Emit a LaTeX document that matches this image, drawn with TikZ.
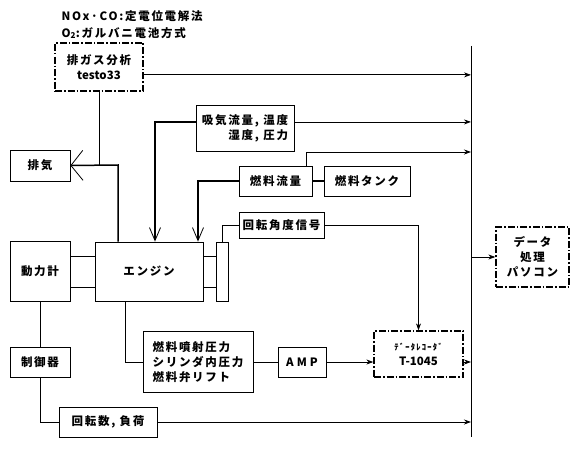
\documentclass[tikz,border=0pt]{standalone}
\usepackage{fontspec}
\setmainfont{Noto Sans CJK JP}[LetterSpace=15]
\newfontfamily\latn{Noto Sans CJK JP}
\usetikzlibrary{arrows.meta}
\begin{document}
\begin{tikzpicture}[x=1pt,y=-1pt,
  every node/.style={font=\fontsize{11.5}{15}\selectfont\bfseries},
  box/.style={draw,line width=0.8pt,inner sep=2pt},
  dbox/.style={draw,line width=1.3pt,dash pattern=on 7pt off 2pt on 1.5pt off 2pt,inner sep=2pt},
  wire/.style={line width=0.8pt},
  sig/.style={line width=0.8pt,-{Stealth[length=7pt,width=5pt]}},
  feed/.style={line width=1.5pt,-{Straight Barb[length=13pt,width=11pt,line width=0.8pt]}}]
  \useasboundingbox (0,0) rectangle (580,452);
  % bus
  \coordinate (busT) at (471,46);
  \coordinate (busB) at (471,437);
  \draw[wire] (busT) -- (busB);
  % notes
  \node[anchor=west] (noxl) at (58,16) {NOx·CO:定電位電解法};
  \node[anchor=west] (o2l) at (58,33) {O\textsubscript{2}:ガルバニ電池方式};
  % boxes
  \node[dbox,minimum width=88,minimum height=48,align=center] (gas) at (99,67) {排ガス分析\\{\latn\bfseries testo33}};
  \node[box,minimum width=60,minimum height=31] (exh) at (40,165.5) {排気};
  \node[box,minimum width=98,minimum height=46,align=right] (intake) at (245,128) {吸気流量, 温度\\湿度, 圧力};
  \node[box,minimum width=73,minimum height=30] (fflow) at (275.5,181) {燃料流量};
  \node[box,minimum width=86,minimum height=30] (tank) at (367,181) {燃料タンク};
  \node[box,minimum width=85,minimum height=26] (angle) at (281.5,225) {回転角度信号};
  \node[box,minimum width=108,minimum height=59] (engine) at (149,271.5) {エンジン};
  \node[box,minimum width=12,minimum height=59,inner sep=0pt] (disc) at (222,271.5) {};
  \node[box,minimum width=60,minimum height=60] (dyno) at (40,271.5) {動力計};
  \node[box,minimum width=110,minimum height=61,align=left] (inj) at (198,362) {燃料噴射圧力\\シリンダ内圧力\\燃料弁リフト};
  \node[box,minimum width=48,minimum height=30] (amp) at (302,362) {A\hspace{3pt}M\hspace{3pt}P};
  \node[dbox,minimum width=89,minimum height=46,align=center] (rec) at (418.5,354) {{\fontsize{8.5}{11}\selectfont ﾃﾞｰﾀﾚｺｰﾀﾞ}\\{\latn\bfseries T-1045}};
  \node[box,minimum width=60,minimum height=30] (ctrl) at (40,362) {制御器};
  \node[box,minimum width=98,minimum height=30] (rpm) at (108,422) {回転数, 負荷};
  \node[dbox,minimum width=73,minimum height=60,align=center] (pc) at (532.5,257) {データ\\処理\\パソコン};
  % exhaust
  \coordinate (exT) at (118,165);
  \draw[feed,-{Straight Barb[length=12pt,width=30pt,line width=0.8pt]}] (exT |- engine.north) -- (exT) -- (exh.east);
  \draw[wire] (gas.south) -- (gas.south |- exT);
  \draw[sig] (gas.-10) -- (gas.-10 -| busT);
  % intake
  \coordinate (inX) at (155,0);
  \draw[feed] (intake.173) -| (engine.north -| inX);
  \draw[sig] (intake.7) -- (intake.7 -| busT);
  % fuel
  \coordinate (fup) at (306,152);
  \draw[sig] (fup |- fflow.north) -- (fup) -- (fup -| busT);
  \coordinate (fuX) at (198,0);
  \draw[feed] (fflow.west) -| (engine.north -| fuX);
  \draw[line width=1.5pt] (fflow.east) -- (tank.west);
  % crank angle
  \draw[wire] (angle.west) -| (disc.north);
  \draw[sig] (angle.east) -| (rec.north);
  % shafts
  \draw[wire] (engine.16) -- (engine.16 -| disc.west);
  \draw[wire] (engine.-16) -- (engine.-16 -| disc.west);
  \draw[wire] (engine.164) -- (engine.164 -| dyno.east);
  \draw[wire] (engine.-164) -- (engine.-164 -| dyno.east);
  % lower part
  \draw[wire] (dyno.south) -- (ctrl.north);
  \draw[wire] (ctrl.south) |- (rpm.west);
  \draw[sig] (rpm.east) -- (rpm.east -| busT);
  \coordinate (enX) at (125,0);
  \draw[wire] (engine.south -| enX) |- (inj.west);
  \draw[wire] (inj.east) -- (amp.west);
  \draw[sig] (amp.east) -- (amp.east -| rec.west);
  \draw[sig] (amp.east -| rec.east) -- (amp.east -| busT);
  \draw[sig] (pc.west -| busT) -- (pc.west);
\end{tikzpicture}
\end{document}
